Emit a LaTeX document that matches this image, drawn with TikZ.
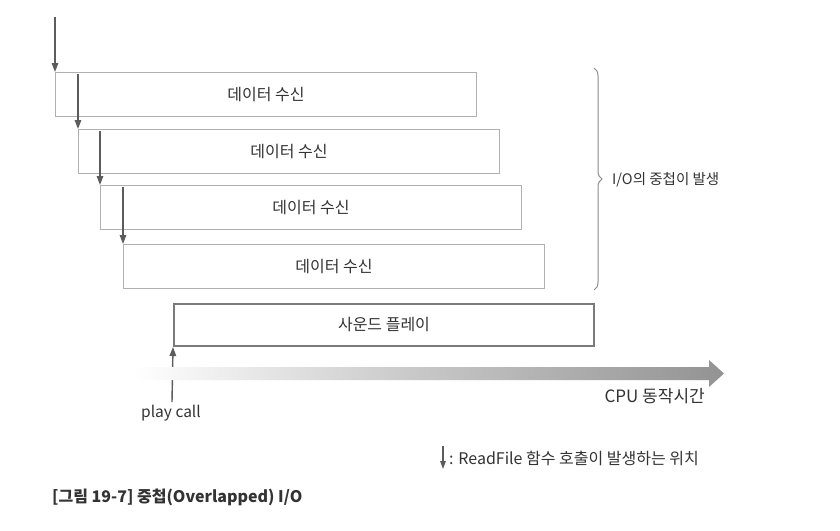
\documentclass[tikz,border=0pt]{standalone}
\usepackage{fontspec}
\setmainfont{Noto Sans CJK KR}
\usetikzlibrary{arrows.meta,decorations.pathreplacing}
\definecolor{boxline}{HTML}{B0B0B0}
\definecolor{playline}{HTML}{7A7A7A}
\definecolor{arrowcol}{HTML}{5C5C5C}
\definecolor{txt}{HTML}{333333}
\begin{document}
\begin{tikzpicture}[x=1pt,y=-1pt,
  databox/.style={draw=boxline,line width=1pt,minimum width=421pt,minimum height=44pt,inner sep=0pt,anchor=north west,font=\fontsize{16}{18}\selectfont,text=txt},
  playbox/.style={draw=playline,line width=2pt,minimum width=420pt,minimum height=42pt,inner sep=0pt,anchor=north west,font=\fontsize{16}{18}\selectfont,text=txt},
  readarrow/.style={draw=arrowcol,line width=1.4pt,-{Triangle[width=6.5pt,length=9pt]}},
  lbl/.style={font=\fontsize{16}{18}\selectfont,text=txt,inner sep=0pt}]
\useasboundingbox (0,0) rectangle (840,530);
\fill[white] (0,0) rectangle (840,530);

\node[databox] (b1) at (55,72) {데이터 수신};
\node[databox] (b2) at (78,129) {데이터 수신};
\node[databox] (b3) at (100,185) {데이터 수신};
\node[databox] (b4) at (123,244) {데이터 수신};
\node[playbox] (play) at (173,303) {사운드 플레이};

\coordinate (s0) at (55,17);
\draw[readarrow] (s0) -- (b1.north west);
\draw[readarrow] (b2.north west |- b1.north) ++(0,2) -- (b2.north west);
\draw[readarrow] (b3.north west |- b2.north) ++(0,2) -- (b3.north west);
\draw[readarrow] (b4.north west |- b3.north) ++(0,2) -- (b4.north west);

% brace
\draw[boxline!80!black,line width=1pt,decorate,decoration={brace,amplitude=8pt}]
  (594,68) -- (594,290);
\node[lbl,anchor=west,font=\fontsize{14.5}{17}\selectfont] (io) at (612,180) {I/O의 중첩이 발생};

% play call
\coordinate (pc) at (172,402);
\draw[readarrow] (pc) -- (play.south west);
\node[lbl,anchor=north,font=\fontsize{15.5}{18}\selectfont] (pclbl) at (171,405) {play call};

% CPU time gradient arrow
\shade[left color=white,right color=gray!85,middle color=gray!45]
  (133,367) -- (709,367) -- (709,360) -- (724,373.5) -- (709,387) -- (709,380) -- (133,380) -- cycle;
\node[lbl,anchor=north east,font=\fontsize{17}{19}\selectfont] (cpu) at (705,388) {CPU 동작시간};

% legend
\coordinate (la) at (443,446);
\coordinate (lb) at (443,469);
\draw[draw=arrowcol,line width=1.2pt,-{Triangle[width=5.5pt,length=8pt]}] (la) -- (lb);
\node[lbl,anchor=west] (leg) at (449,458) {: ReadFile 함수 호출이 발생하는 위치};

% caption
\node[lbl,anchor=west,font=\fontsize{16}{18}\selectfont\bfseries] (cap) at (52,497) {[그림 19-7] 중첩(Overlapped) I/O};
\end{tikzpicture}
\end{document}
